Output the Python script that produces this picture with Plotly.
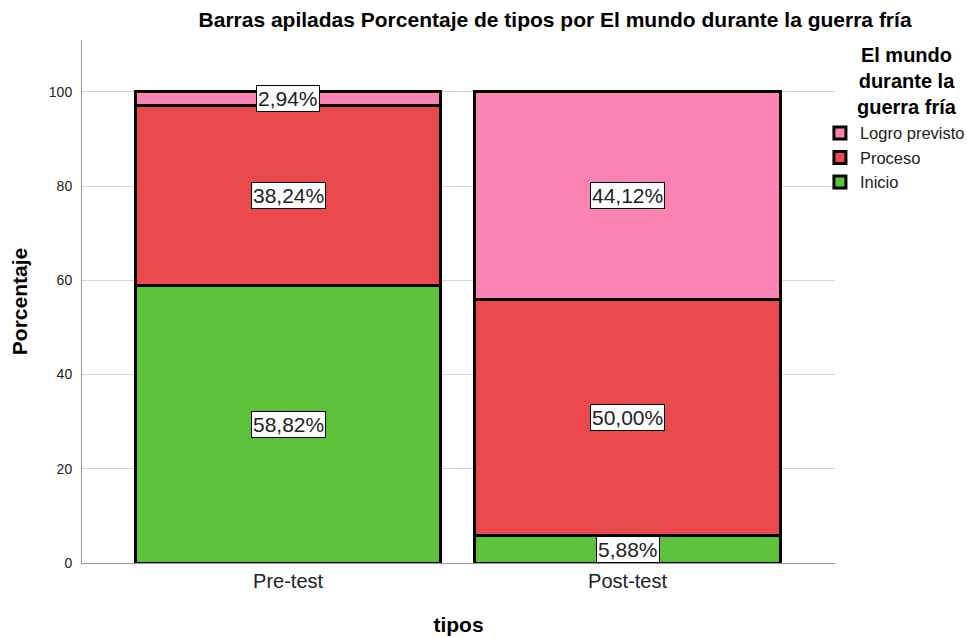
import plotly.graph_objects as go

categories = ["Pre-test", "Post-test"]
inicio = [58.82, 5.88]
proceso = [38.24, 50.00]
logro = [2.94, 44.12]
series_names = ["Inicio", "Proceso", "Logro previsto"]
series_values = [inicio, proceso, logro]
colors = ["#5DC23A", "#EA4A4C", "#FC84B4"]

FONT = "Liberation Sans, Arial"

fig = go.Figure()
for name, vals, col in zip(series_names, series_values, colors):
    fig.add_trace(go.Bar(
        x=categories, y=vals, name=name, width=0.9,
        marker=dict(color=col, line=dict(color="black", width=3)),
        hoverinfo="skip",
    ))

# value labels at segment midpoints
base = [0.0] * len(categories)
for vals in series_values:
    for i, (c, v) in enumerate(zip(categories, vals)):
        mid = base[i] + v / 2
        fig.add_annotation(
            x=c, y=mid, xref="x", yref="y",
            text=f"{v:.2f}%".replace(".", ","),
            showarrow=False,
            font=dict(family=FONT, size=21, color="#222"),
            bgcolor="white", bordercolor="black", borderwidth=1, borderpad=1,
        )
        base[i] += v

# legend title (centered, multi-line)
fig.add_annotation(
    x=1.0956, y=0.9216, xref="paper", yref="paper",
    xanchor="center", yanchor="middle",
    text="<b>El mundo<br>durante la<br>guerra fría</b>",
    showarrow=False, align="center",
    font=dict(family=FONT, size=20, color="black"),
)

fig.update_layout(
    width=967, height=637,
    barmode="stack",
    plot_bgcolor="white", paper_bgcolor="white",
    margin=dict(l=82, r=132, t=40, b=74, autoexpand=False),
    font=dict(family=FONT, color="#222"),
    title=dict(
        text="<b>Barras apiladas Porcentaje de tipos por El mundo durante la guerra fría</b>",
        x=0.574, xanchor="center", xref="container",
        y=0.9686, yanchor="middle", yref="container",
        font=dict(size=21, color="black"),
    ),
    showlegend=True,
    legend=dict(
        x=0.980, xanchor="left", y=0.855, yanchor="top",
        traceorder="reversed",
        font=dict(size=16.5, color="#222"),
        itemwidth=30,
        bgcolor="rgba(0,0,0,0)",
    ),
    xaxis=dict(
        range=[-0.607, 1.611],
        automargin=False,
        showline=True, linecolor="#999", linewidth=1,
        ticks="", tickfont=dict(size=20, color="#222"),
        title=dict(text="<b>tipos</b>", font=dict(size=21, color="black"), standoff=26),
    ),
    yaxis=dict(
        range=[0, 111],
        automargin=False,
        tickvals=[0, 20, 40, 60, 80, 100],
        showline=True, linecolor="#999", linewidth=1,
        showgrid=True, gridcolor="#d4d4d4", gridwidth=1,
        zeroline=False,
        ticks="", ticklabelstandoff=6, tickfont=dict(size=14, color="#222"),
        title=dict(text="<b>Porcentaje</b>", font=dict(size=21, color="black"), standoff=15),
    ),
)

# remove the default page margin so the 967x637 figure fills the window exactly
fig.write_html(
    "out.html",
    config={"displayModeBar": False},
    post_script="document.body.style.margin='0';document.body.style.overflow='hidden';",
)
